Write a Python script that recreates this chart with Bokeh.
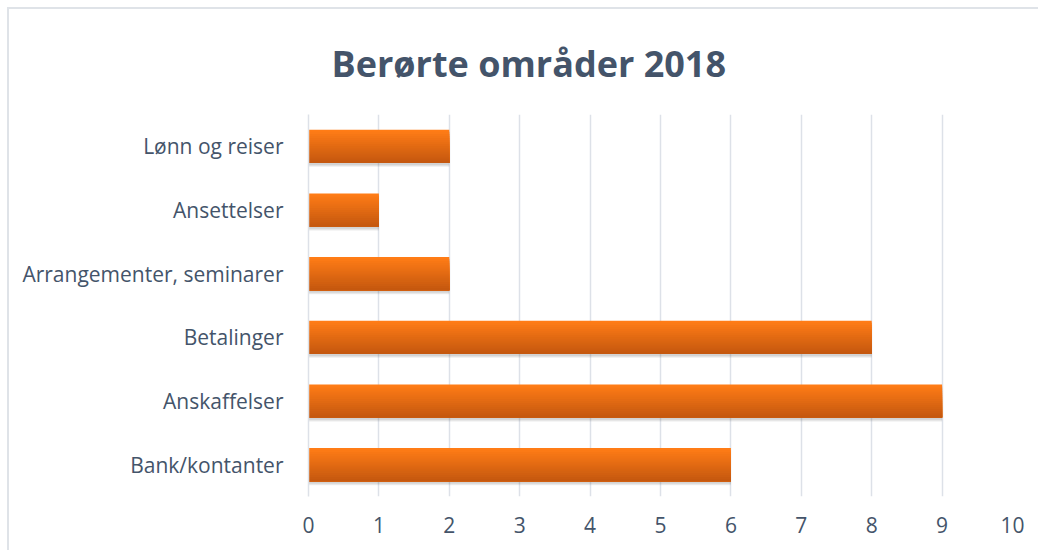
from bokeh.plotting import figure
from bokeh.embed import file_html
from bokeh.resources import INLINE
from bokeh.models import ColumnDataSource, FactorRange
from bokeh.transform import dodge

categories = ["Bank/kontanter", "Anskaffelser", "Betalinger",
              "Arrangementer, seminarer", "Ansettelser", "Lønn og reiser"]
values = [6, 9, 8, 2, 1, 2]
x_ticks = [0, 1, 2, 3, 4, 5, 6, 7, 8, 9, 10]
title_text = "Berørte områder 2018"

TEXT = "#44546A"
GRID = "#DDE1E8"
FONT = "Open Sans"

src = ColumnDataSource(dict(cat=categories, val=values))

p = figure(width=1031, height=543, y_range=FactorRange(*categories, range_padding=0),
           x_range=(0, 10), output_backend="svg", toolbar_location=None,
           min_border_left=299, min_border_right=28, min_border_top=105, min_border_bottom=56,
           title=title_text)
p.margin = (7, 0, 0, 7)
p.styles = {"border-left": "2px solid #DFE3E8", "border-top": "2px solid #DFE3E8"}

p.title.align = "left"
p.title.offset = 23
p.title.text_font = FONT
p.title.text_font_size = "36px"
p.title.text_font_style = "bold"
p.title.text_color = TEXT
p.title.standoff = 54

p.outline_line_color = None
p.background_fill_color = "white"
p.border_fill_color = "white"

p.xgrid.grid_line_color = GRID
p.xgrid.grid_line_width = 1.5
p.xgrid.ticker = x_ticks
p.ygrid.grid_line_color = None

p.xaxis.ticker = x_ticks
p.xaxis.axis_line_color = None
p.xaxis.major_tick_line_color = None
p.xaxis.minor_tick_line_color = None
p.xaxis.major_label_text_font = FONT
p.xaxis.major_label_text_font_size = "21px"
p.xaxis.major_label_text_color = TEXT
p.xaxis.major_label_standoff = 14

p.yaxis.axis_line_color = GRID
p.yaxis.axis_line_width = 1.5
p.yaxis.major_tick_line_color = None
p.yaxis.minor_tick_line_color = None
p.yaxis.major_label_text_font = FONT
p.yaxis.major_label_text_font_size = "21px"
p.yaxis.major_label_text_color = TEXT
p.yaxis.major_label_standoff = 19

H = 0.52
# soft shadow
for off, a in [(0.0, 0.10), (0.015, 0.10), (0.03, 0.08)]:
    p.hbar(y=dodge("cat", -0.03 - off, range=p.y_range), left=0, right="val",
           height=H + 0.01, source=src, fill_color="#555555", fill_alpha=a, line_color=None)

# gradient bars: strips from top (bright) to bottom (dark)
N = 16
top_c = (255, 124, 22)
bot_c = (197, 88, 15)
for i in range(N):
    t = i / (N - 1)
    c = tuple(int(round(top_c[k] + (bot_c[k] - top_c[k]) * t)) for k in range(3))
    col = "#%02x%02x%02x" % c
    h = H * (N - i) / N
    off = -H / 2 + h / 2
    p.hbar(y=dodge("cat", off, range=p.y_range), left=0, right="val",
           height=h, source=src, fill_color=col, line_color=None)

open("out.html", "w").write(file_html(p, INLINE))
